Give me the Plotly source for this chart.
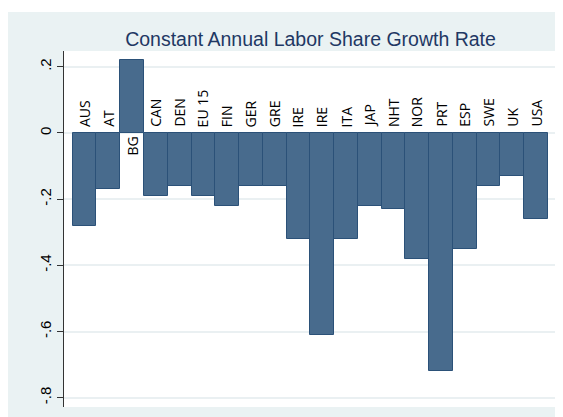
import plotly.graph_objects as go

countries = ["AUS", "AT", "BG", "CAN", "DEN", "EU 15", "FIN", "GER", "GRE", "IRE",
             "IRE", "ITA", "JAP", "NHT", "NOR", "PRT", "ESP", "SWE", "UK", "USA"]
growth = [-0.28, -0.17, 0.22, -0.19, -0.16, -0.19, -0.22, -0.16, -0.16, -0.32,
          -0.61, -0.32, -0.22, -0.23, -0.38, -0.72, -0.35, -0.16, -0.13, -0.26]
ytick_vals = [0.2, 0, -0.2, -0.4, -0.6, -0.8]
ytick_text = [".2", "0", "-.2", "-.4", "-.6", "-.8"]

# positions as numbers so the two IRE bars stay separate
xs = list(range(len(countries)))

fig = go.Figure(go.Bar(
    x=xs, y=growth,
    marker=dict(color="#486b8d", line=dict(color="#2b5178", width=1)),
    width=1,
    hoverinfo="y",
))

# country labels sit on the zero line, above for negative bars, below for positive
for x, name, v in zip(xs, countries, growth):
    fig.add_annotation(
        x=x, y=0, text=name, showarrow=False, textangle=-90,
        yanchor="top" if v > 0 else "bottom",
        yshift=-2 if v > 0 else 4,
        font=dict(family="Open Sans", size=14, color="black"),
    )

# thin white strip above the light outer frame
fig.add_shape(type="rect", xref="paper", yref="paper",
              x0=-0.2, x1=1.1, y0=1.1096, y1=1.13,
              fillcolor="white", line=dict(width=0), layer="below")

fig.update_layout(
    title=dict(text="Constant Annual Labor Share Growth Rate", x=0.5, xref="paper",
               y=0.924, yanchor="middle",
               font=dict(family="Arial", size=19.5, color="#1f3864")),
    width=555, height=409,
    margin=dict(l=56, r=6, t=43, b=10),
    paper_bgcolor="#eaf2f3",
    plot_bgcolor="white",
    bargap=0,
    showlegend=False,
    xaxis=dict(range=[-0.866, 19.88], showticklabels=False, showgrid=False,
               zeroline=False, ticks="", showline=False),
    yaxis=dict(range=[-0.828, 0.2477], tickvals=ytick_vals, ticktext=ytick_text,
               tickangle=-90, ticks="outside", ticklen=6, tickcolor="#333333",
               showline=True, linecolor="#333333", linewidth=1,
               showgrid=True, gridcolor="#eaf0f2", gridwidth=1.5,
               zeroline=False, automargin=False,
               tickfont=dict(family="Arial", size=15, color="black")),
)

fig.write_html("out.html")
